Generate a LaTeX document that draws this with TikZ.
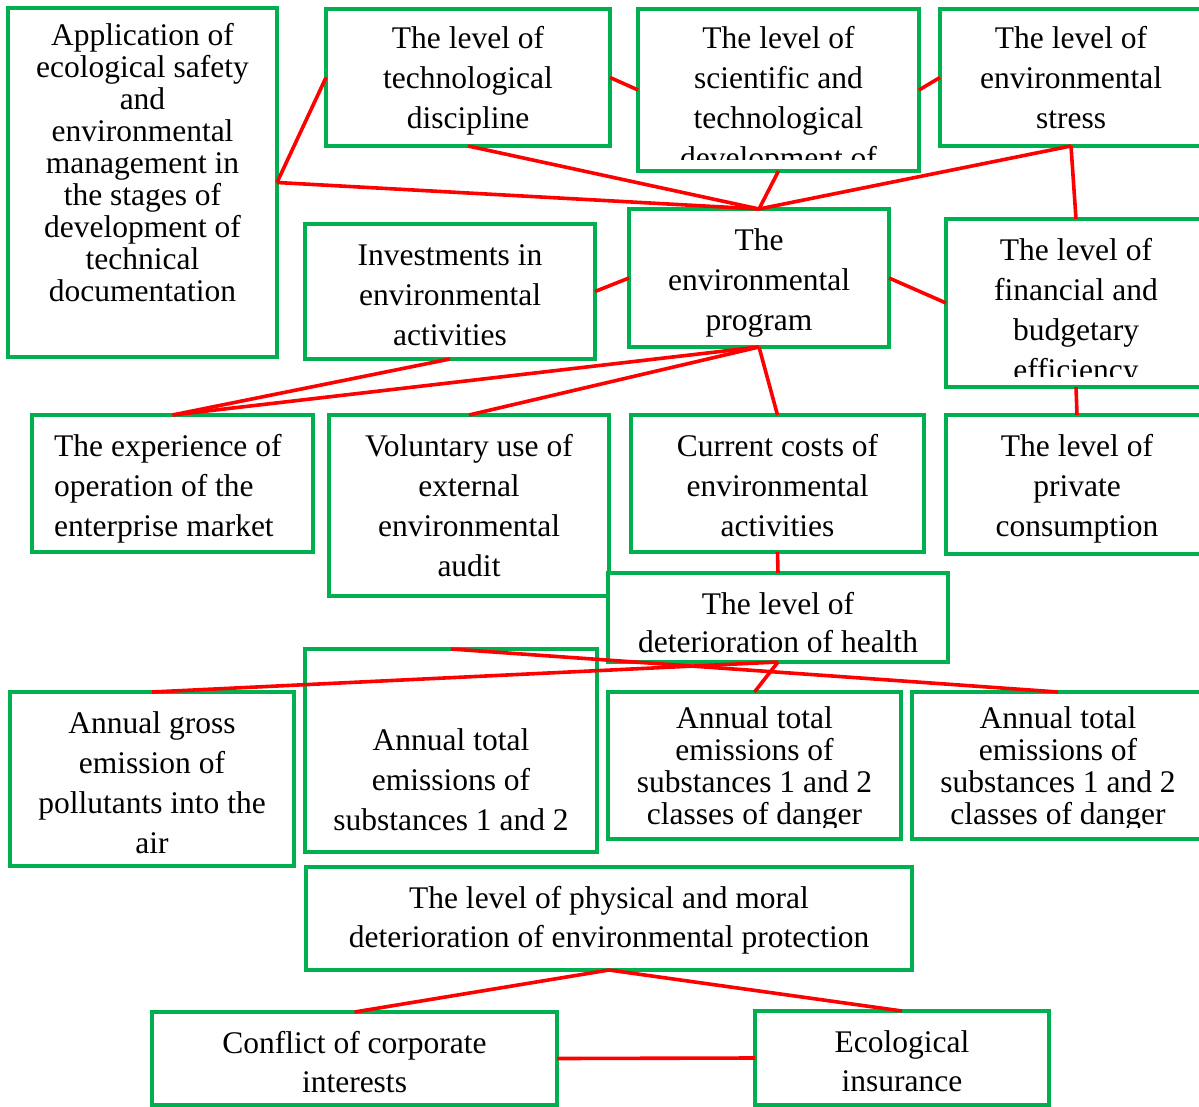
\documentclass[tikz,border=0pt]{standalone}
\usepackage{fontspec}
\setmainfont{Liberation Serif}
\definecolor{boxgreen}{RGB}{0,176,80}
\definecolor{linkred}{RGB}{255,0,0}
\tikzset{
  ebox/.style={draw=boxgreen, line width=4pt, fill=white, rectangle, inner sep=0pt, outer sep=0pt},
  link/.style={draw=linkred, line width=3.6pt},
  lbl/.style={font=\fontsize{31.5}{40}\selectfont, align=center, inner sep=0pt, anchor=north, text=black},
  lbltight/.style={lbl, font=\fontsize{31.5}{32}\selectfont},
  lblmid/.style={lbl, font=\fontsize{31.5}{39}\selectfont},
}
% box from its corners: name, x1, y1, x2, y2
\newcommand\ebox[5]{\node[ebox, minimum width={(#4-#2)*1pt}, minimum height={(#5-#3)*1pt}] (#1) at ({(#2+#4)/2},{(#3+#5)/2}) {};}
\begin{document}
\begin{tikzpicture}[x=1pt,y=-1pt]
\useasboundingbox (0,0) rectangle (1199,1107);
\fill[white] (0,0) rectangle (1199,1107);
\clip (0,0) rectangle (1199,1107);

% boxes
\ebox{A}{8}{8}{277}{357}
\ebox{B}{326}{9}{610}{146}
\ebox{C}{638}{9}{919}{171}
\ebox{D}{940}{9}{1202}{146}
\ebox{E}{629}{209}{889}{347}
\ebox{F}{305}{224}{595}{359}
\ebox{G}{946}{219}{1206}{387}
\ebox{H}{32}{415}{313}{552}
\ebox{I}{329}{415}{609}{596}
\ebox{J}{631}{415}{924}{552}
\ebox{K}{946}{415}{1208}{554}
\ebox{L}{608}{573}{948}{662}
\ebox{M}{10}{692}{294}{866}
\ebox{N}{305}{649}{597}{852}
\ebox{O}{608}{692}{901}{839}
\ebox{P}{912}{692}{1204}{839}
\ebox{Q}{306}{867}{912}{970}
\ebox{R}{152}{1012}{557}{1105}
\ebox{S}{755}{1011}{1049}{1105}

% labels
\node[lbltight] (tA) at (142.5,23.1) {\strut Application of\\ecological safety\\and\\environmental\\management in\\the stages of\\development of\\technical\\documentation};
\node[lbl] (tB) at (468,20) {\strut The level of\\technological\\discipline};
\begin{scope}
  \clip (640,13) rectangle (917,160);
  \node[lbl] (tC) at (778.5,20) {\strut The level of\\scientific and\\technological\\development of};
\end{scope}
\node[lbl] (tD) at (1071,20) {\strut The level of\\environmental\\stress};
\node[lbl] (tE) at (759,222) {\strut The\\environmental\\program};
\node[lbl] (tF) at (450,237) {\strut Investments in\\environmental\\activities};
\begin{scope}
  \clip (948,221) rectangle (1199,376);
  \node[lbl] (tG) at (1076,232) {\strut The level of\\financial and\\budgetary\\efficiency};
\end{scope}
\node[lbl, align=left, anchor=north west] (tH) at (54,428) {\strut The experience of\\operation of the\\enterprise market};
\node[lbl] (tI) at (469,428) {\strut Voluntary use of\\external\\environmental\\audit};
\node[lbl] (tJ) at (777.5,428) {\strut Current costs of\\environmental\\activities};
\node[lbl] (tK) at (1077,428) {\strut The level of\\private\\consumption};
\begin{scope}
  \clip (610,575) rectangle (946,652);
  \node[lbl, font=\fontsize{31.5}{38}\selectfont] (tL) at (778,587.4) {\strut The level of\\deterioration of health};
\end{scope}
\node[lbl] (tM) at (152,705) {\strut Annual gross\\emission of\\pollutants into the\\air};
\node[lbl] (tN) at (451,722) {\strut Annual total\\emissions of\\substances 1 and 2};
\begin{scope}
  \clip (610,694) rectangle (1199,827);
  \node[lbltight] (tO) at (754.5,705.6) {\strut Annual total\\emissions of\\substances 1 and 2\\classes of danger};
  \node[lbltight] (tP) at (1058,705.6) {\strut Annual total\\emissions of\\substances 1 and 2\\classes of danger};
\end{scope}
\node[lblmid] (tQ) at (609,880.7) {\strut The level of physical and moral\\deterioration of environmental protection};
\node[lblmid] (tR) at (354.5,1025.7) {\strut Conflict of corporate\\interests};
\node[lblmid] (tS) at (902,1024.7) {\strut Ecological\\insurance};

% connectors
\draw[link] (A.east) -- (B.west);
\draw[link] (B.east) -- (C.west);
\draw[link] (C.east) -- (D.west);
\draw[link] (A.east) -- (E.north);
\draw[link] (B.south) -- (E.north);
\draw[link] (C.south) -- (E.north);
\draw[link] (D.south) -- (E.north);
\draw[link] (D.south) -- (G.north);
\draw[link] (F.east) -- (E.west);
\draw[link] (E.east) -- (G.west);
\draw[link] (G.south) -- (K.north);
\draw[link] (E.south) -- (H.north);
\draw[link] (F.south) -- (H.north);
\draw[link] (E.south) -- (I.north);
\draw[link] (E.south) -- (J.north);
\draw[link] (J.south) -- (L.north);
\draw[link] (L.south) -- (M.north);
\draw[link] (L.south) -- (O.north);
\draw[link] (N.north) -- (P.north);
\draw[link] (Q.south) -- (R.north);
\draw[link] (Q.south) -- (S.north);
\draw[link] (R.east) -- (S.west);
\end{tikzpicture}
\end{document}
